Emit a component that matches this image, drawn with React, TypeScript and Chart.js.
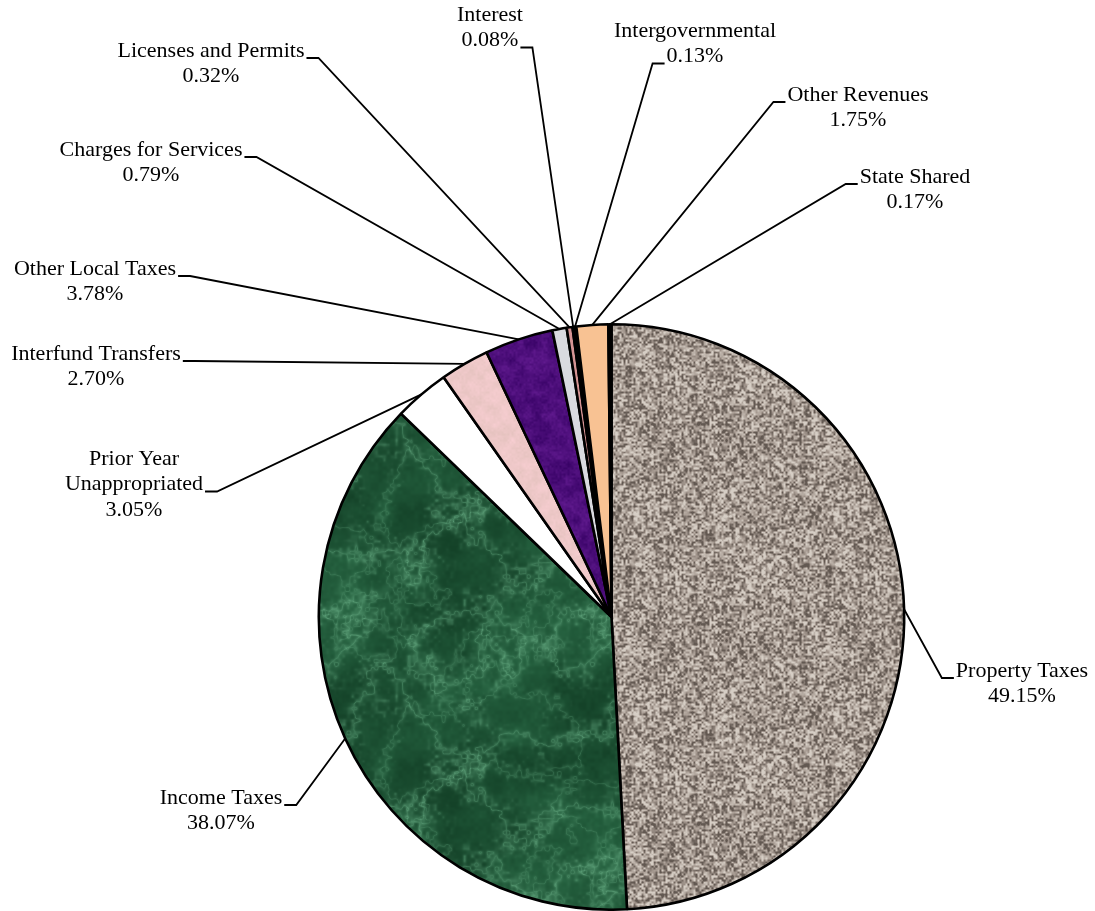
import React, { useEffect, useRef } from "react";
import { Chart, registerables } from "chart.js";

Chart.register(...registerables);

// Revenue sources, clockwise from 12 o'clock
const categories = [
  "Property Taxes",
  "Income Taxes",
  "Prior Year Unappropriated",
  "Interfund Transfers",
  "Other Local Taxes",
  "Charges for Services",
  "Licenses and Permits",
  "Interest",
  "Intergovernmental",
  "Other Revenues",
  "State Shared",
];

const shares = [49.15, 38.07, 3.05, 2.7, 3.78, 0.79, 0.32, 0.08, 0.13, 1.75, 0.17];

// Label text lines for each slice
const labelLines = [
  ["Property Taxes", "49.15%"],
  ["Income Taxes", "38.07%"],
  ["Prior Year", "Unappropriated", "3.05%"],
  ["Interfund Transfers", "2.70%"],
  ["Other Local Taxes", "3.78%"],
  ["Charges for Services", "0.79%"],
  ["Licenses and Permits", "0.32%"],
  ["Interest", "0.08%"],
  ["Intergovernmental", "0.13%"],
  ["Other Revenues", "1.75%"],
  ["State Shared", "0.17%"],
];

// Callout placement: text centre x, first line y, line the leader hooks onto, side of the hook
const calloutLayout = [
  { x: 1022, y: 671, line: 0, side: "left" },
  { x: 221, y: 798, line: 0, side: "right" },
  { x: 134, y: 459, line: 1, side: "right" },
  { x: 96, y: 354, line: 0, side: "right" },
  { x: 95, y: 269, line: 0, side: "right" },
  { x: 151, y: 150, line: 0, side: "right" },
  { x: 211, y: 51, line: 0, side: "right" },
  { x: 490, y: 15, line: 1, side: "right" },
  { x: 695, y: 31, line: 1, side: "left" },
  { x: 858, y: 95, line: 0, side: "left" },
  { x: 915, y: 177, line: 0, side: "left" },
];

const FONT = "22px 'Liberation Serif', 'Times New Roman', serif";
const LINE_H = 25.5;

// ---- deterministic tileable value noise for the slice textures ----
function hash(ix: number, iy: number, seed: number): number {
  let h = (Math.imul(ix, 374761393) + Math.imul(iy, 668265263) + Math.imul(seed, 1442695041)) | 0;
  h = Math.imul(h ^ (h >>> 13), 1274126177);
  h ^= h >>> 16;
  return (h >>> 0) / 4294967296;
}

function vnoise(x: number, y: number, period: number, seed: number): number {
  const ix = Math.floor(x);
  const iy = Math.floor(y);
  const fx = x - ix;
  const fy = y - iy;
  const sx = fx * fx * (3 - 2 * fx);
  const sy = fy * fy * (3 - 2 * fy);
  const m = (v: number) => ((v % period) + period) % period;
  const a = hash(m(ix), m(iy), seed);
  const b = hash(m(ix + 1), m(iy), seed);
  const c = hash(m(ix), m(iy + 1), seed);
  const d = hash(m(ix + 1), m(iy + 1), seed);
  return a + (b - a) * sx + (c - a) * sy + (a - b - c + d) * sx * sy;
}

function makeTexture(
  size: number,
  paint: (x: number, y: number) => [number, number, number]
): HTMLCanvasElement {
  const cv = document.createElement("canvas");
  cv.width = size;
  cv.height = size;
  const ctx = cv.getContext("2d")!;
  const img = ctx.createImageData(size, size);
  for (let y = 0; y < size; y++) {
    for (let x = 0; x < size; x++) {
      const [r, g, b] = paint(x, y);
      const i = (y * size + x) * 4;
      img.data[i] = r;
      img.data[i + 1] = g;
      img.data[i + 2] = b;
      img.data[i + 3] = 255;
    }
  }
  ctx.putImageData(img, 0, 0);
  return cv;
}

const clamp = (v: number) => Math.max(0, Math.min(1, v));
const mix = (a: number[], b: number[], t: number): [number, number, number] => [
  a[0] + (b[0] - a[0]) * t,
  a[1] + (b[1] - a[1]) * t,
  a[2] + (b[2] - a[2]) * t,
];

// fine speckled stone
function granite(): HTMLCanvasElement {
  const S = 200;
  const dark = [98, 88, 81];
  const mid = [164, 152, 143];
  const light = [214, 206, 197];
  return makeTexture(S, (x, y) => {
    const v =
      0.7 * vnoise(x / 2, y / 2, 100, 11) +
      0.22 * vnoise(x / 4, y / 4, 50, 12) +
      0.08 * vnoise(x / 25, y / 25, 8, 13);
    const t = clamp((v - 0.5) * 1.8 + 0.5);
    return t < 0.5 ? mix(dark, mid, t * 2) : mix(mid, light, (t - 0.5) * 2);
  });
}

// dark green veined marble
function marble(): HTMLCanvasElement {
  const S = 256;
  const fbm = (x: number, y: number, seed: number) =>
    0.45 * vnoise(x / 64, y / 64, 4, seed) +
    0.25 * vnoise(x / 32, y / 32, 8, seed + 1) +
    0.17 * vnoise(x / 16, y / 16, 16, seed + 2) +
    0.13 * vnoise(x / 4, y / 4, 64, seed + 3);
  const deep = [20, 66, 40];
  const base = [40, 104, 68];
  const vein = [96, 164, 124];
  return makeTexture(S, (x, y) => {
    const b = clamp((fbm(x, y, 21) - 0.5) * 2.0 + 0.5);
    const w = fbm(x, y, 41);
    const v = Math.pow(1 - Math.abs(2 * w - 1), 12);
    const w2 = fbm(x + 37, y + 91, 61);
    const v2 = Math.pow(1 - Math.abs(2 * w2 - 1), 16);
    const c = mix(deep, base, b * 0.8);
    return mix(c, vein, clamp(v * 0.5 + v2 * 0.35));
  });
}

function mottled(col: number[], amp: number, seed: number): HTMLCanvasElement {
  const S = 128;
  return makeTexture(S, (x, y) => {
    const n =
      0.6 * vnoise(x / 8, y / 8, 16, seed) + 0.4 * vnoise(x / 2, y / 2, 64, seed + 5) - 0.5;
    return [col[0] + n * amp * 2, col[1] + n * amp * 1.2, col[2] + n * amp * 2];
  });
}

const calloutPlugin = {
  id: "callouts",
  afterDatasetsDraw(chart: any) {
    const ctx: CanvasRenderingContext2D = chart.ctx;
    const meta = chart.getDatasetMeta(0);
    ctx.save();
    ctx.font = FONT;
    ctx.fillStyle = "#000";
    ctx.strokeStyle = "#000";
    ctx.lineWidth = 1.8;
    ctx.textAlign = "center";
    ctx.textBaseline = "middle";
    meta.data.forEach((arc: any, i: number) => {
      const p = arc.getProps(["x", "y", "startAngle", "endAngle", "outerRadius"], true);
      const mid = (p.startAngle + p.endAngle) / 2;
      const ax = p.x + Math.cos(mid) * p.outerRadius;
      const ay = p.y + Math.sin(mid) * p.outerRadius;
      const lay = calloutLayout[i];
      const lines = labelLines[i];
      lines.forEach((t, k) => ctx.fillText(t, lay.x, lay.y + k * LINE_H));
      const w = ctx.measureText(lines[lay.line]).width;
      const hy = lay.y + lay.line * LINE_H + 7;
      let x0: number, x1: number;
      if (lay.side === "right") {
        x0 = lay.x + w / 2 + 2;
        x1 = x0 + 12;
      } else {
        x0 = lay.x - w / 2 - 2;
        x1 = x0 - 12;
      }
      ctx.beginPath();
      ctx.moveTo(x0, hy);
      ctx.lineTo(x1, hy);
      ctx.lineTo(ax, ay);
      ctx.stroke();
    });
    ctx.restore();
  },
};

export default function App() {
  const ref = useRef<HTMLCanvasElement>(null);

  useEffect(() => {
    document.body.style.margin = "0";
    const canvas = ref.current!;
    const c2d = canvas.getContext("2d")!;
    const pat = (cv: HTMLCanvasElement) => c2d.createPattern(cv, "repeat")!;

    const fills = [
      pat(granite()),
      pat(marble()),
      "#ffffff",
      pat(mottled([238, 200, 200], 10, 71)),
      pat(mottled([76, 14, 122], 22, 81)),
      "#d9dadf",
      "#d69494",
      "#222222",
      "#111111",
      "#f8c293",
      "#000000",
    ];

    const chart = new Chart(canvas, {
      type: "pie",
      data: {
        labels: categories,
        datasets: [
          {
            data: shares,
            backgroundColor: fills as any,
            borderColor: "#000000",
            borderWidth: 2.6,
          },
        ],
      },
      options: {
        responsive: false,
        animation: false,
        layout: { padding: { top: 323, left: 317, right: 189, bottom: 0 } },
        plugins: {
          legend: { display: false },
          tooltip: { enabled: false },
        },
      },
      plugins: [calloutPlugin],
    });
    return () => chart.destroy();
  }, []);

  return (
    <div style={{ width: 1095, height: 911, background: "#fff" }}>
      <canvas ref={ref} width={1095} height={911} />
    </div>
  );
}
